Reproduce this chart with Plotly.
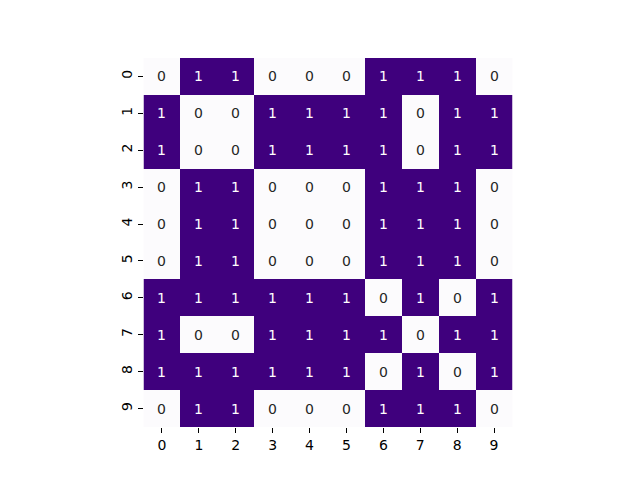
import plotly.graph_objects as go

labels = [str(i) for i in range(10)]
z = [
    [0, 1, 1, 0, 0, 0, 1, 1, 1, 0],
    [1, 0, 0, 1, 1, 1, 1, 0, 1, 1],
    [1, 0, 0, 1, 1, 1, 1, 0, 1, 1],
    [0, 1, 1, 0, 0, 0, 1, 1, 1, 0],
    [0, 1, 1, 0, 0, 0, 1, 1, 1, 0],
    [0, 1, 1, 0, 0, 0, 1, 1, 1, 0],
    [1, 1, 1, 1, 1, 1, 0, 1, 0, 1],
    [1, 0, 0, 1, 1, 1, 1, 0, 1, 1],
    [1, 1, 1, 1, 1, 1, 0, 1, 0, 1],
    [0, 1, 1, 0, 0, 0, 1, 1, 1, 0],
]

fig = go.Figure(go.Heatmap(
    z=z, x=list(range(10)), y=list(range(10)),
    colorscale=[[0, "#fcfbfd"], [1, "#3f007d"]],
    zmin=0, zmax=1, showscale=False, hoverinfo="skip",
    xgap=0, ygap=0,
))

annotations = []
for i, row in enumerate(z):
    for j, v in enumerate(row):
        annotations.append(dict(
            x=j, y=i, text=str(v), showarrow=False,
            font=dict(family="DejaVu Sans", size=14,
                      color="#ffffff" if v == 1 else "#262626"),
        ))

fig.update_layout(
    width=640, height=480,
    margin=dict(l=143, r=127, t=58, b=53),
    paper_bgcolor="white", plot_bgcolor="white",
    annotations=annotations,
    font=dict(family="DejaVu Sans", size=14, color="black"),
    xaxis=dict(
        tickmode="array", tickvals=list(range(10)), ticktext=labels,
        range=[-0.5, 9.5], showgrid=False, zeroline=False, showline=False,
        ticks="outside", ticklen=5, tickwidth=1, tickcolor="black",
        constrain="domain",
    ),
    yaxis=dict(
        tickmode="array", tickvals=list(range(10)), ticktext=labels,
        range=[9.5, -0.5], showgrid=False, zeroline=False, showline=False,
        ticks="outside", ticklen=5, tickwidth=1, tickcolor="black",
        tickangle=-90, scaleanchor="x", scaleratio=1,
    ),
)

fig.write_html("out.html")
